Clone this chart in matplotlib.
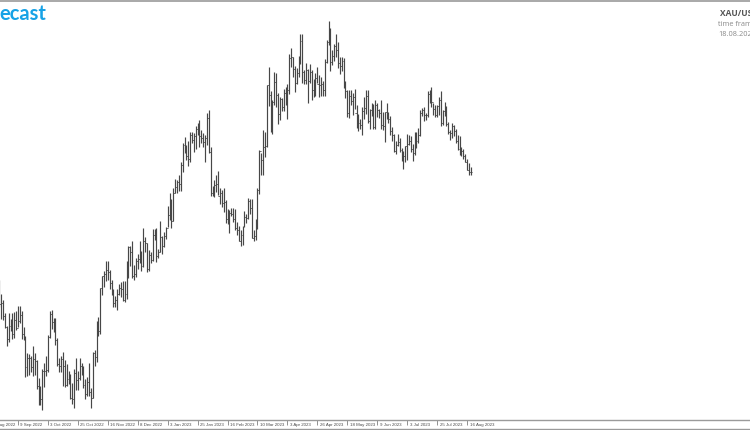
import pandas as pd
import matplotlib.pyplot as plt
from matplotlib.transforms import ScaledTranslation, blended_transform_factory

# XAU/USD daily bars, 26 Aug 2022 .. 18 Aug 2023
highs = [1765, 1748, 1741, 1727, 1712, 1727,
         1720, 1726, 1728, 1729, 1735, 1735, 1729, 1710, 1700, 1680,
         1679, 1677, 1688, 1681, 1672, 1652, 1643, 1662, 1669, 1677,
         1701, 1729, 1730, 1721, 1721, 1698, 1675, 1677, 1682, 1672,
         1668, 1660, 1656, 1646, 1662, 1675, 1660, 1675, 1669, 1666,
         1651, 1653, 1669, 1640, 1682, 1684, 1717, 1722, 1755, 1769,
         1775, 1787, 1786, 1776, 1765, 1754, 1746, 1754, 1760, 1762,
         1764, 1763, 1786, 1804, 1804, 1810, 1782, 1790, 1794, 1810,
         1798, 1824, 1814, 1807, 1799, 1797, 1823, 1823, 1824, 1800,
         1833, 1815, 1820, 1826,
         1850, 1865, 1858, 1870, 1881, 1880, 1885, 1901, 1922, 1929,
         1920, 1925, 1935, 1935, 1934, 1942, 1946, 1949, 1937, 1934,
         1932, 1957, 1960, 1918, 1873, 1880, 1886, 1890, 1870, 1868,
         1870, 1857, 1846, 1845, 1848, 1847, 1846, 1831, 1827, 1822,
         1827, 1844, 1841, 1859, 1858, 1858, 1822, 1835, 1871, 1914,
         1911, 1937, 1935, 1989, 2010, 1982, 1972, 2004, 2003, 1980,
         1975, 1974, 1985, 1987, 1990, 2025, 2032, 2022, 2011, 2009,
         2023, 2048, 2048, 2006, 2015, 2008, 2013, 2006, 1996, 2003,
         2010, 2001, 1998, 1994, 2019, 2041, 2063, 2055, 2030, 2036,
         2048, 2039, 2022, 2022, 2020, 1994, 1984, 1984, 1983, 1980,
         1985, 1966, 1956, 1950, 1964, 1975, 1983, 1983, 1962, 1969,
         1967, 1972, 1969, 1962, 1972, 1958, 1958, 1968, 1958, 1953,
         1941, 1933, 1925, 1933, 1928, 1917, 1913, 1919, 1933, 1932,
         1931, 1921, 1935, 1935, 1940, 1960, 1963, 1964, 1957, 1982,
         1983, 1987, 1969, 1966, 1966, 1975, 1982, 1960, 1970, 1965,
         1947, 1937, 1946, 1943, 1939, 1932, 1930, 1918, 1916, 1910,
         1904, 1899, 1895]
lows = [1734, 1720, 1718, 1709, 1688, 1693,
        1706, 1697, 1698, 1707, 1710, 1715, 1697, 1695, 1653, 1654,
        1655, 1659, 1654, 1655, 1639, 1621, 1621, 1615, 1641, 1654,
        1659, 1698, 1708, 1705, 1690, 1666, 1659, 1659, 1642, 1641,
        1642, 1645, 1628, 1622, 1617, 1638, 1638, 1649, 1655, 1640,
        1627, 1631, 1631, 1617, 1629, 1665, 1670, 1700, 1702, 1747,
        1756, 1764, 1765, 1754, 1747, 1733, 1733, 1730, 1747, 1745,
        1740, 1739, 1743, 1767, 1781, 1767, 1765, 1768, 1777, 1784,
        1775, 1779, 1797, 1774, 1775, 1784, 1786, 1811, 1785, 1790,
        1797, 1795, 1803, 1812,
        1826, 1834, 1824, 1833, 1865, 1865, 1867, 1867, 1889, 1911,
        1903, 1896, 1901, 1922, 1912, 1916, 1932, 1918, 1922, 1918,
        1900, 1920, 1911, 1861, 1861, 1860, 1866, 1862, 1852, 1849,
        1843, 1830, 1829, 1819, 1838, 1831, 1822, 1817, 1809, 1804,
        1805, 1826, 1830, 1835, 1841, 1813, 1809, 1811, 1823, 1864,
        1885, 1886, 1906, 1918, 1965, 1935, 1933, 1966, 1964, 1944,
        1949, 1959, 1959, 1966, 1950, 1979, 2010, 1999, 1981, 1990,
        1999, 2013, 1992, 1990, 1990, 1969, 1992, 1972, 1975, 1976,
        1992, 1975, 1976, 1977, 1977, 2014, 2035, 2005, 2012, 2017,
        2021, 2009, 2002, 2005, 1986, 1974, 1952, 1951, 1966, 1955,
        1962, 1940, 1936, 1938, 1932, 1950, 1956, 1946, 1938, 1953,
        1939, 1939, 1952, 1951, 1939, 1937, 1924, 1950, 1946, 1932,
        1925, 1912, 1910, 1919, 1912, 1902, 1893, 1901, 1903, 1920,
        1912, 1902, 1909, 1917, 1922, 1930, 1953, 1948, 1949, 1952,
        1969, 1964, 1955, 1952, 1952, 1955, 1942, 1943, 1954, 1942,
        1933, 1926, 1928, 1930, 1922, 1914, 1909, 1907, 1904, 1900,
        1891, 1885, 1885]
closes = [1737, 1738, 1723, 1711, 1697, 1712,
          1710, 1702, 1718, 1709, 1717, 1724, 1702, 1697, 1664, 1675,
          1675, 1664, 1673, 1671, 1643, 1622, 1628, 1660, 1660, 1661,
          1699, 1725, 1716, 1713, 1695, 1668, 1666, 1673, 1666, 1644,
          1650, 1652, 1629, 1627, 1657, 1649, 1652, 1665, 1663, 1644,
          1633, 1647, 1635, 1629, 1681, 1676, 1712, 1706, 1755, 1769,
          1772, 1776, 1774, 1761, 1751, 1738, 1741, 1749, 1755, 1754,
          1741, 1749, 1768, 1803, 1797, 1769, 1771, 1787, 1789, 1797,
          1781, 1810, 1807, 1777, 1793, 1788, 1817, 1814, 1792, 1797,
          1814, 1804, 1815, 1824,
          1839, 1855, 1833, 1865, 1872, 1877, 1875, 1897, 1920, 1916,
          1908, 1904, 1932, 1926, 1931, 1938, 1946, 1930, 1928, 1923,
          1928, 1951, 1912, 1865, 1867, 1874, 1875, 1861, 1865, 1853,
          1855, 1835, 1836, 1842, 1841, 1835, 1825, 1822, 1810, 1817,
          1826, 1837, 1836, 1856, 1847, 1813, 1815, 1831, 1868, 1913,
          1903, 1918, 1919, 1989, 1978, 1941, 1970, 1993, 1978, 1956,
          1973, 1964, 1980, 1969, 1984, 2020, 2021, 2008, 1991, 2003,
          2015, 2040, 2004, 1995, 2007, 1994, 2004, 1983, 1989, 1997,
          1990, 1989, 1990, 1983, 2016, 2039, 2049, 2016, 2023, 2034,
          2030, 2015, 2011, 2017, 1989, 1982, 1957, 1977, 1971, 1975,
          1957, 1941, 1946, 1943, 1959, 1963, 1977, 1948, 1961, 1963,
          1941, 1966, 1961, 1957, 1943, 1942, 1958, 1957, 1950, 1936,
          1932, 1913, 1920, 1923, 1914, 1907, 1908, 1919, 1921, 1925,
          1915, 1911, 1925, 1925, 1932, 1957, 1961, 1955, 1955, 1979,
          1976, 1970, 1962, 1955, 1965, 1972, 1946, 1959, 1965, 1944,
          1935, 1934, 1942, 1936, 1925, 1915, 1912, 1913, 1907, 1901,
          1891, 1889, 1889]
first_open = 1758

tick_dates = ["18 Aug 2022", "9 Sep 2022", "3 Oct 2022", "25 Oct 2022",
              "16 Nov 2022", "8 Dec 2022", "3 Jan 2023", "25 Jan 2023",
              "16 Feb 2023", "10 Mar 2023", "3 Apr 2023", "26 Apr 2023",
              "18 May 2023", "9 Jun 2023", "3 Jul 2023", "25 Jul 2023",
              "16 Aug 2023"]

# trading days as the terminal shows them (no bars on these holidays)
days = pd.bdate_range("2022-08-18", "2023-08-18")
days = days.drop(pd.to_datetime(["2022-12-26", "2023-01-02", "2023-04-07"]))
pos = {d: i for i, d in enumerate(days)}
start = pos[pd.Timestamp("2022-08-26")]
xs = list(range(start, start + len(closes)))
# forex bars open at the previous close
opens = [first_open] + closes[:-1]

fig = plt.figure(figsize=(7.5, 4.3), dpi=100)
ax = fig.add_axes([0, 10 / 430, 1, 419 / 430])

bar_col = "#474747"
ax.vlines(xs, lows, highs, color=bar_col, linewidth=0.85)
ax.hlines(opens, [x - 0.45 for x in xs], xs, color=bar_col, linewidth=0.7)
ax.hlines(closes, xs, [x + 0.45 for x in xs], color=bar_col, linewidth=0.7)

# date scale: tick marks plus labels just right of each mark
tick_x = [pos[pd.to_datetime(t)] for t in tick_dates]
ax.set_xticks(tick_x)
ax.set_xticklabels([])
ax.tick_params(axis="x", length=3.6, width=0.5, color="#666666", direction="out")
ax.set_yticks([])
shift = ScaledTranslation(2.5 / 100, 0, fig.dpi_scale_trans)
tr = blended_transform_factory(ax.transData, ax.transAxes) + shift
for x, t in zip(tick_x, tick_dates):
    ax.text(x, -4.6 / 419, t, transform=tr, fontsize=3.2, color="#4a4a4a",
            family="Liberation Sans", ha="left", va="center", clip_on=False)

# limits after the ticks, so the off-screen first tick does not widen the view
px_per_bar = (467 - 18) / 240
x0 = 16 - 18 / px_per_bar
ax.set_xlim(x0, x0 + 750 / px_per_bar)
ax.set_ylim(1603.3, 2086.0)

for side in ["left", "right"]:
    ax.spines[side].set_visible(False)
ax.spines["top"].set_color("#9a9a9a")
ax.spines["bottom"].set_color("#9a9a9a")
ax.spines["top"].set_linewidth(1.2)
ax.spines["bottom"].set_linewidth(1.0)
fig.add_artist(plt.Line2D([0, 1], [0.6 / 430, 0.6 / 430], color="#9a9a9a", linewidth=1.0))

fig.text(-1 / 750, 1 - 14 / 430, "ecast", color="#17a2e6", fontsize=14.5,
         fontweight="bold", family="Lato", ha="left", va="center")
fig.text(720 / 750, 1 - 14 / 430, "XAU/USD", color="#555555", fontsize=6,
         fontweight="bold", family="Open Sans", ha="left", va="center")
fig.text(718 / 750, 1 - 25 / 430, "time frame: D1", color="#8a8a8a", fontsize=5.3,
         family="Open Sans", ha="left", va="center")
fig.text(718 / 750, 1 - 35 / 430, "18.08.2023", color="#8a8a8a", fontsize=5.3,
         family="Open Sans", ha="left", va="center")

fig.savefig("out.png", dpi=100)
